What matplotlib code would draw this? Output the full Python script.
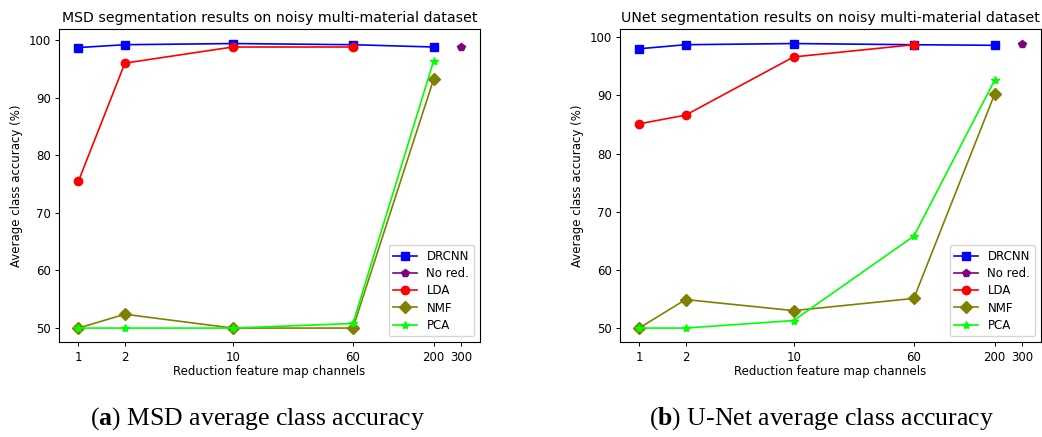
import numpy as np
import matplotlib.pyplot as plt
from matplotlib.ticker import NullLocator

channels = [1, 2, 10, 60, 200]
no_red_channels = [300]
tick_channels = [1, 2, 10, 60, 200, 300]

# MSD panel
msd_drcnn = [98.7, 99.2, 99.4, 99.2, 98.8]
msd_nored = [98.8]
msd_lda = [75.5, 96.0, 98.8, 98.8]
msd_nmf = [50.0, 52.4, 50.0, 50.0, 93.2]
msd_pca = [50.0, 50.0, 50.0, 50.8, 96.4]

# U-Net panel
unet_drcnn = [98.0, 98.7, 98.9, 98.7, 98.6]
unet_nored = [98.9]
unet_lda = [85.1, 86.6, 96.6, 98.7]
unet_nmf = [50.0, 54.9, 53.0, 55.1, 90.2]
unet_pca = [50.0, 50.0, 51.3, 65.8, 92.6]

plt.rcParams['mathtext.fontset'] = 'custom'
plt.rcParams['mathtext.rm'] = 'Liberation Serif'
plt.rcParams['mathtext.bf'] = 'Liberation Serif:bold'

fs = 8.5
lw = 1.2
ms = 6


def draw(ax, title, drcnn, nored, lda, nmf, pca):
    ax.plot(channels, drcnn, '-s', color='blue', lw=lw, ms=ms, label='DRCNN')
    ax.plot(no_red_channels, nored, '-p', color='purple', lw=lw, ms=ms, label='No red.')
    ax.plot(channels[:len(lda)], lda, '-o', color='red', lw=lw, ms=ms, label='LDA')
    ax.plot(channels, nmf, '-D', color='olive', lw=lw, ms=ms, label='NMF')
    ax.plot(channels, pca, '-*', color='lime', lw=lw, ms=ms, label='PCA')
    ax.set_xscale('log')
    ax.set_xticks(tick_channels)
    ax.set_xticklabels([str(c) for c in tick_channels])
    ax.xaxis.set_minor_locator(NullLocator())
    ax.set_yticks([50, 60, 70, 80, 90, 100])
    ax.tick_params(labelsize=fs, length=3, width=0.7, pad=3)
    for s in ax.spines.values():
        s.set_linewidth(0.8)
    ax.set_title(title, fontsize=10.2, pad=5)
    ax.set_xlabel('Reduction feature map channels', fontsize=fs, labelpad=1)
    ax.set_ylabel('Average class accuracy (%)', fontsize=fs, labelpad=4)
    ax.legend(loc='lower right', fontsize=fs, handlelength=2.0, borderpad=0.4,
              labelspacing=0.35)


fig = plt.figure(figsize=(10.42, 4.37), dpi=100, facecolor='white')
ax1 = fig.add_axes([0.0569, 0.2167, 0.4037, 0.7162])
ax2 = fig.add_axes([0.595, 0.2167, 0.404, 0.7162])

draw(ax1, 'MSD segmentation results on noisy multi-material dataset',
     msd_drcnn, msd_nored, msd_lda, msd_nmf, msd_pca)
draw(ax2, 'UNet segmentation results on noisy multi-material dataset',
     unet_drcnn, unet_nored, unet_lda, unet_nmf, unet_pca)

fig.text(0.2476, 0.043, r'($\mathbf{a}$) MSD average class accuracy',
         family='Liberation Serif', fontsize=18.5, ha='center', va='center')
fig.text(0.788, 0.043, r'($\mathbf{b}$) U-Net average class accuracy',
         family='Liberation Serif', fontsize=18.5, ha='center', va='center')

fig.savefig('out.png', dpi=100, facecolor='white')
